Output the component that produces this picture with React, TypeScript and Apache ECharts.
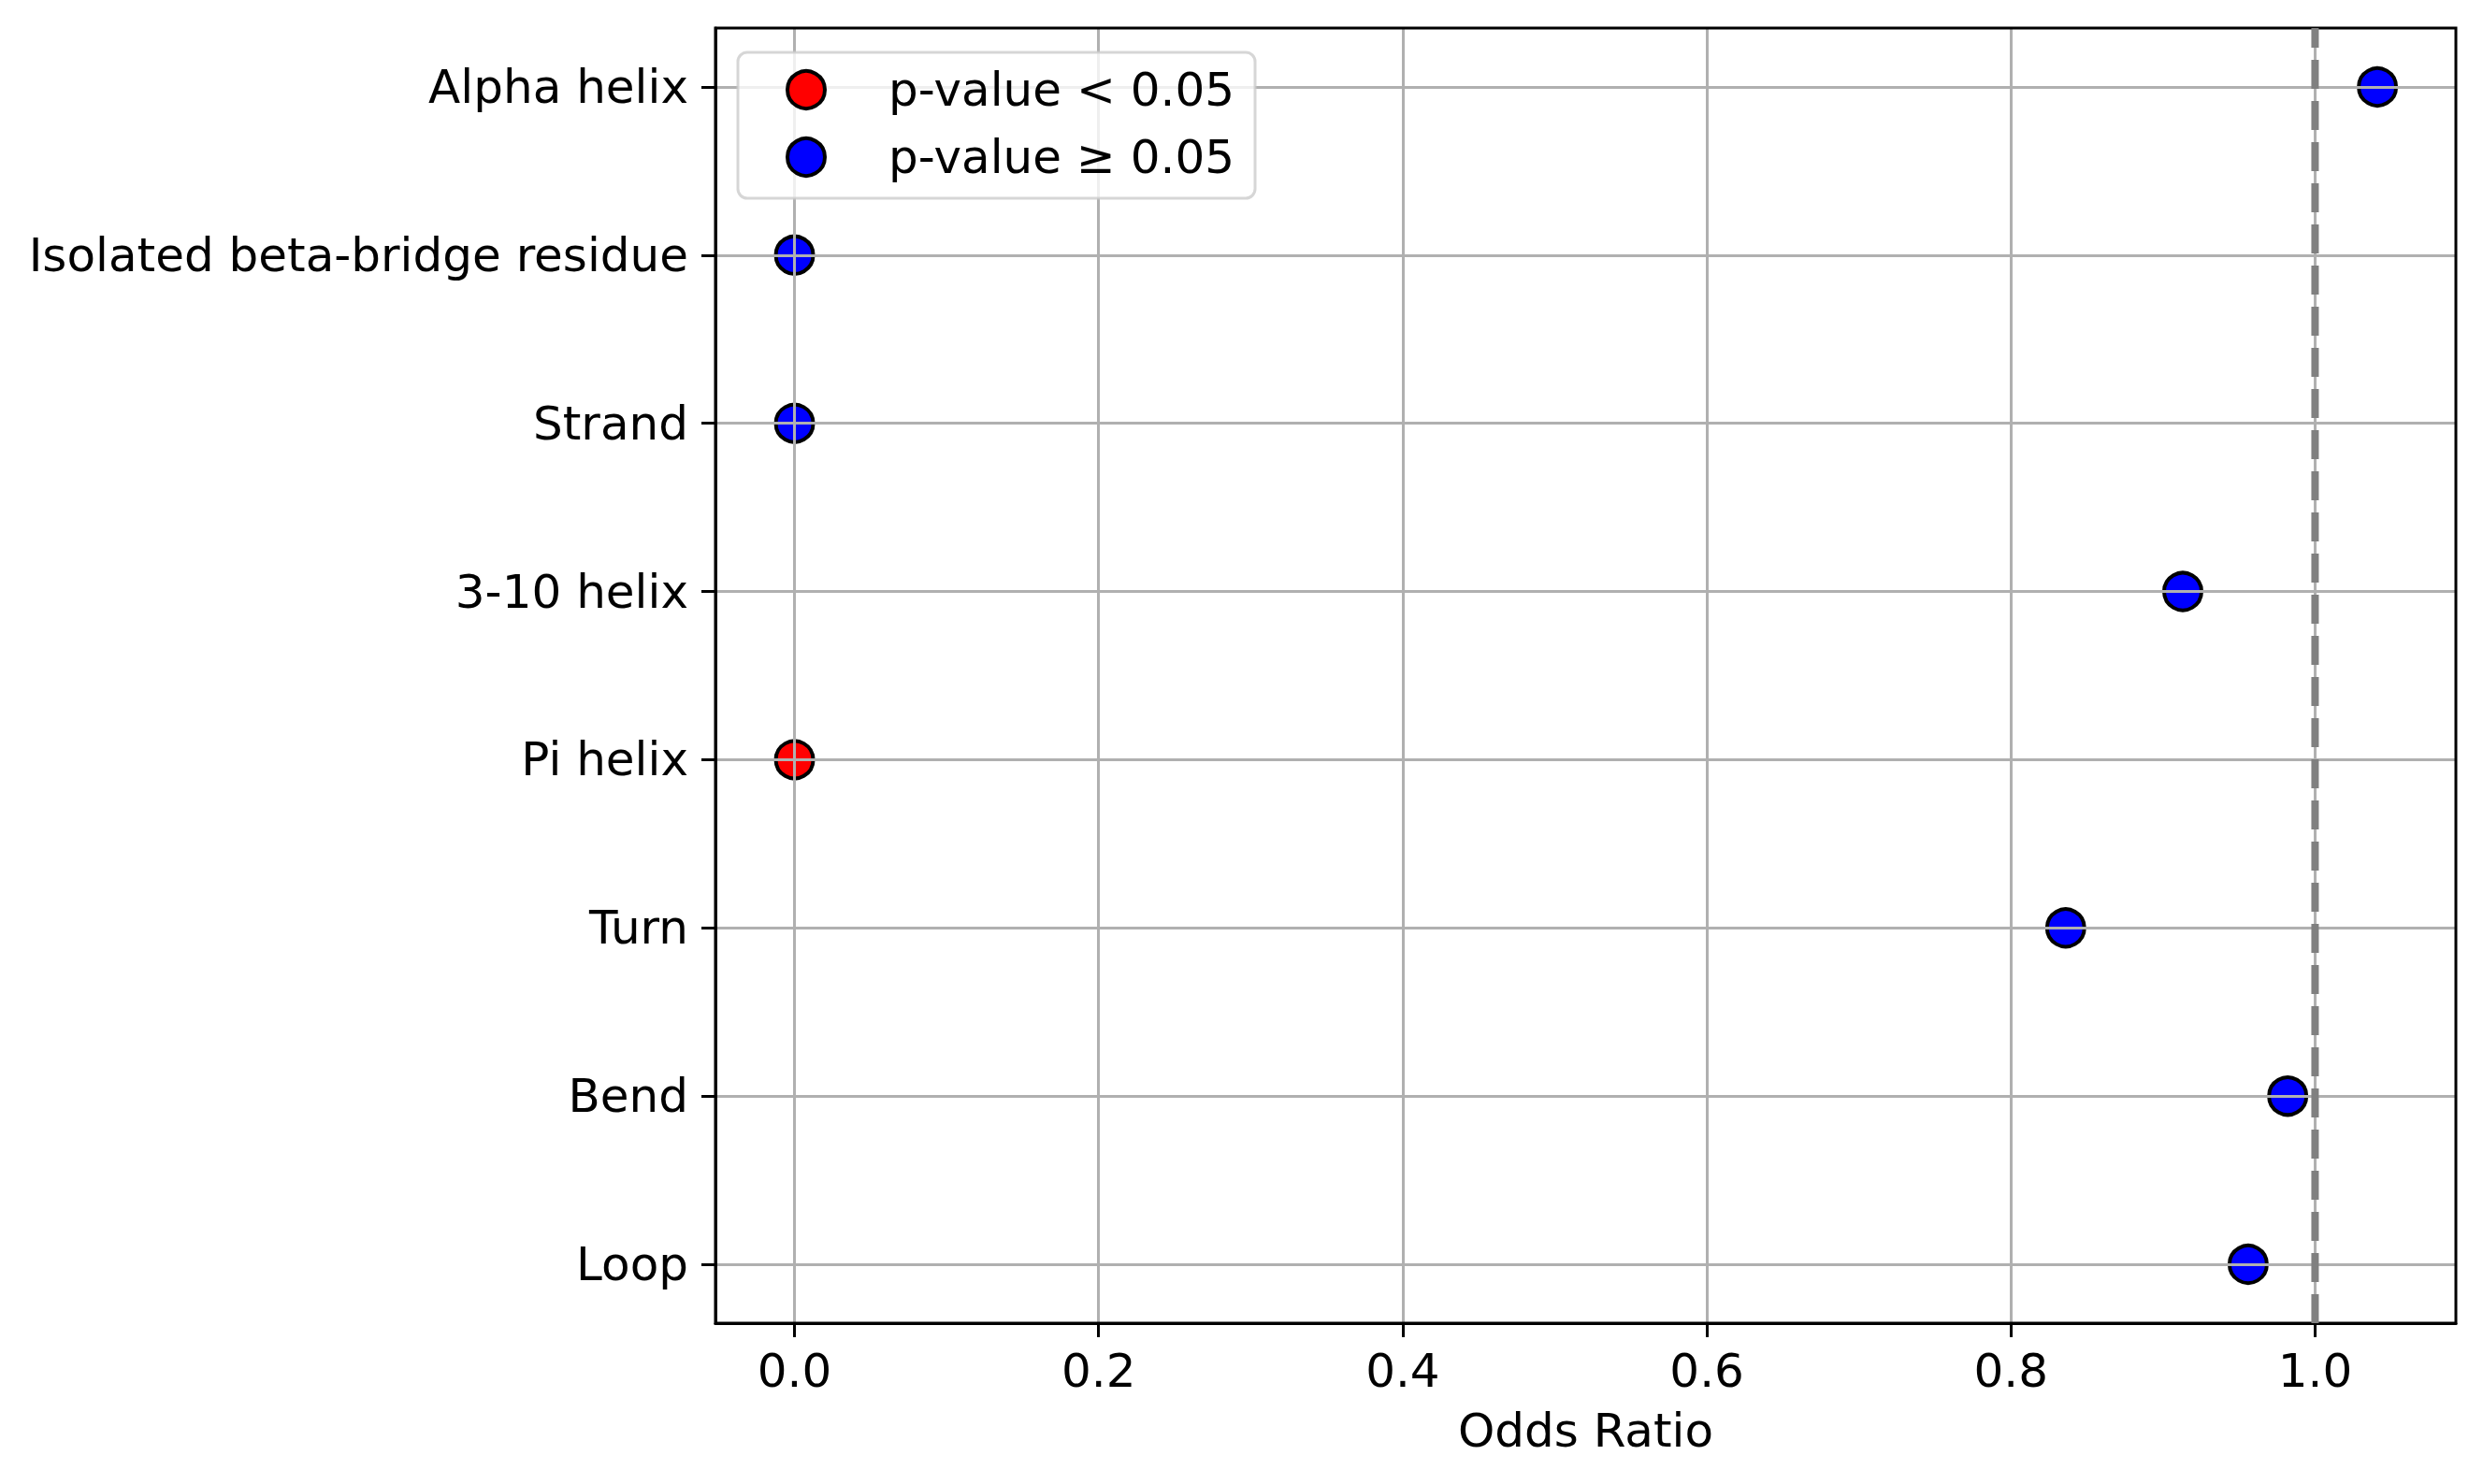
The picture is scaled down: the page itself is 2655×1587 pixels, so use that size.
import React, { useEffect, useRef } from "react";
import * as echarts from "echarts";

const categories = [
  "Alpha helix",
  "Isolated beta-bridge residue",
  "Strand",
  "3-10 helix",
  "Pi helix",
  "Turn",
  "Bend",
  "Loop",
];
const oddsRatios = [1.041, 0, 0, 0.913, 0, 0.836, 0.982, 0.956];
const significant = [false, false, false, false, true, false, false, false];
const xTicks = [0, 0.2, 0.4, 0.6, 0.8, 1.0];
const referenceValue = 1.0;
const legendNames = ["p-value < 0.05", "p-value \u2265 0.05"];

const FONT = "DejaVu Sans";

export default function App() {
  const ref = useRef<HTMLDivElement>(null);

  useEffect(() => {
    if (!ref.current) return;
    const chart = echarts.init(ref.current, null, { renderer: "svg" });
    const yIdx = categories.map((_, i) => i);
    const sigData = yIdx.filter((i) => significant[i]).map((i) => [oddsRatios[i], i]);
    const nsData = yIdx.filter((i) => !significant[i]).map((i) => [oddsRatios[i], i]);

    const option: any = {
      animation: false,
      backgroundColor: "#ffffff",
      textStyle: { fontFamily: FONT },
      grid: {
        left: 765,
        top: 30,
        right: 29,
        bottom: 172,
        show: true,
        borderColor: "#000000",
        borderWidth: 3,
        backgroundColor: "transparent",
        z: 4,
        containLabel: false,
        outerBoundsMode: "none",
      },
      legend: {
        data: legendNames,
        orient: "vertical",
        left: 789,
        top: 56,
        padding: [15, 22, 19, 51],
        itemWidth: 40,
        itemHeight: 40,
        itemGap: 22,
        icon: "circle",
        backgroundColor: "rgba(255,255,255,0.8)",
        borderColor: "rgba(204,204,204,0.8)",
        borderWidth: 3,
        borderRadius: 10,
        z: 10,
        selectedMode: false,
        itemStyle: { borderColor: "#000000", borderWidth: 4 },
        textStyle: {
          fontFamily: FONT,
          fontSize: 50,
          color: "#000000",
          padding: [0, 0, 0, 63],
        },
      },
      xAxis: {
        type: "value",
        min: -0.052,
        max: 1.0926,
        z: 3,
        name: "Odds Ratio",
        nameLocation: "middle",
        nameGap: 90,
        nameTextStyle: { fontFamily: FONT, fontSize: 50, color: "#000000" },
        axisLine: { show: true, onZero: false, lineStyle: { color: "#000000", width: 3 } },
        axisTick: {
          show: true,
          customValues: xTicks,
          length: 15,
          lineStyle: { color: "#000000", width: 3 },
        },
        axisLabel: {
          customValues: xTicks,
          margin: 26,
          fontFamily: FONT,
          fontSize: 50,
          color: "#000000",
          formatter: (v: number) => v.toFixed(1),
        },
        splitLine: { show: true, lineStyle: { color: "#b0b0b0", width: 3 } },
      },
      yAxis: {
        type: "value",
        inverse: true,
        min: -0.35,
        max: 7.35,
        z: 3,
        axisLine: { show: true, onZero: false, lineStyle: { color: "#000000", width: 3 } },
        axisTick: {
          show: true,
          customValues: yIdx,
          length: 15,
          lineStyle: { color: "#000000", width: 3 },
        },
        axisLabel: {
          customValues: yIdx,
          margin: 29,
          fontFamily: FONT,
          fontSize: 50,
          color: "#000000",
          formatter: (v: number) => categories[Math.round(v)] ?? "",
        },
        splitLine: { show: true, lineStyle: { color: "#b0b0b0", width: 3 } },
      },
      series: [
        {
          name: legendNames[0],
          type: "scatter",
          z: 2,
          symbol: "circle",
          symbolSize: 40,
          itemStyle: { color: "#ff0000", borderColor: "#000000", borderWidth: 4, opacity: 1 },
          data: sigData,
        },
        {
          name: legendNames[1],
          type: "scatter",
          z: 2,
          symbol: "circle",
          symbolSize: 40,
          itemStyle: { color: "#0000ff", borderColor: "#000000", borderWidth: 4, opacity: 1 },
          data: nsData,
        },
        {
          name: "reference",
          type: "line",
          z: 5,
          silent: true,
          symbol: "none",
          lineStyle: { color: "#808080", width: 8, type: [31, 13], cap: "butt" },
          data: [
            [referenceValue, 7.35],
            [referenceValue, -0.35],
          ],
        },
      ],
    };
    chart.setOption(option);
    return () => chart.dispose();
  }, []);

  return (
    <div
      ref={ref}
      style={{ position: "absolute", left: 0, top: 0, width: 2655, height: 1587, background: "#ffffff" }}
    />
  );
}
